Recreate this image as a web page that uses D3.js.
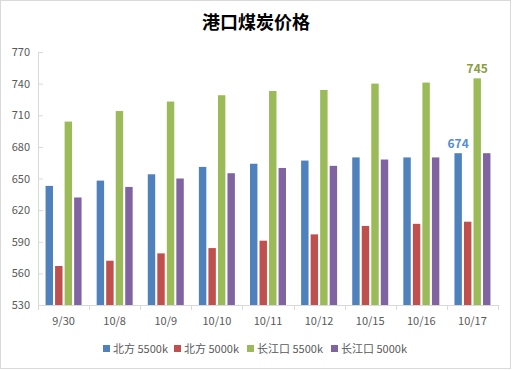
<!DOCTYPE html>
<html>
<head>
<meta charset="utf-8">
<script src="https://cdn.jsdelivr.net/npm/d3@7"></script>
<style>
  body { margin: 0; background: #fff; }
  svg text { font-family: "Noto Sans CJK SC", "Liberation Sans", sans-serif; }
</style>
</head>
<body>
<div id="chart"></div>
<script>
var dates = ['9/30', '10/8', '10/9', '10/10', '10/11', '10/12', '10/15', '10/16', '10/17'];
var seriesNames = ['北方 5500k', '北方 5000k', '长江口 5500k', '长江口 5000k'];
var north5500 = [643, 648, 654, 661, 664, 667, 670, 670, 674];
var north5000 = [567, 572, 579, 584, 591, 597, 605, 607, 609];
var yangtze5500 = [704, 714, 723, 729, 733, 734, 740, 741, 745];
var yangtze5000 = [632, 642, 650, 655, 660, 662, 668, 670, 674];
var yTicks = [530, 560, 590, 620, 650, 680, 710, 740, 770];
var colors = ['#4F81BD', '#C0504D', '#9BBB59', '#8064A2'];

var allSeries = [north5500, north5000, yangtze5500, yangtze5000];

var width = 512, height = 370;
var plotLeft = 38, plotRight = 498, plotTop = 52, plotBottom = 305;

var svg = d3.select('#chart').append('svg')
  .attr('width', width)
  .attr('height', height);

// chart frame
svg.append('rect')
  .attr('x', 0.5).attr('y', 0.5)
  .attr('width', width - 2).attr('height', height - 2)
  .attr('fill', '#fff')
  .attr('stroke', '#D9D9D9');

svg.append('text')
  .attr('x', 256).attr('y', 29)
  .attr('text-anchor', 'middle')
  .style('font-size', '18px')
  .style('font-weight', 'bold')
  .attr('fill', '#000')
  .text('港口煤炭价格');

var x = d3.scaleBand().domain(dates).range([plotLeft, plotRight]);
var x1 = d3.scaleBand().domain(d3.range(4)).range([0, 36]).paddingInner(0.22);
var y = d3.scaleLinear().domain([530, 770]).range([plotBottom, plotTop]);

// y axis
var yAxis = svg.append('g')
  .attr('transform', 'translate(' + plotLeft + ',0)')
  .call(d3.axisRight(y).tickValues(yTicks).tickSize(5).tickFormat(''));
yAxis.select('.domain').attr('stroke', '#D9D9D9').attr('d', 'M0.5,' + plotTop + 'V' + plotBottom);
yAxis.selectAll('.tick line').attr('stroke', '#D9D9D9');

svg.append('g').selectAll('text')
  .data(yTicks)
  .enter().append('text')
  .attr('x', 30)
  .attr('y', function(d) { return y(d) + 4; })
  .attr('text-anchor', 'end')
  .style('font-size', '11px')
  .attr('fill', '#595959')
  .text(function(d) { return d; });

// x axis
var xAxis = svg.append('g')
  .attr('transform', 'translate(0,' + plotBottom + ')')
  .call(d3.axisBottom(x).tickSize(0).tickFormat(''));
xAxis.select('.domain').attr('stroke', '#D9D9D9').attr('d', 'M' + plotLeft + ',0.5H' + plotRight);
xAxis.selectAll('.tick line').remove();

var bounds = dates.map(function(d) { return x(d); }).concat([plotRight]);
svg.append('g').selectAll('line')
  .data(bounds)
  .enter().append('line')
  .attr('x1', function(d) { return Math.round(d) + 0.5; })
  .attr('x2', function(d) { return Math.round(d) + 0.5; })
  .attr('y1', plotBottom).attr('y2', plotBottom + 5)
  .attr('stroke', '#D9D9D9');

svg.append('g').selectAll('text')
  .data(dates)
  .enter().append('text')
  .attr('x', function(d) { return x(d) + x.bandwidth() / 2; })
  .attr('y', 325)
  .attr('text-anchor', 'middle')
  .style('font-size', '11px')
  .attr('fill', '#595959')
  .text(function(d) { return d; });

// bars
var offset = (x.bandwidth() - 36) / 2;
allSeries.forEach(function(vals, i) {
  svg.append('g').selectAll('rect')
    .data(vals)
    .enter().append('rect')
    .attr('x', function(d, j) { return x(dates[j]) + offset + x1(i); })
    .attr('y', function(d) { return y(d); })
    .attr('width', x1.bandwidth())
    .attr('height', function(d) { return plotBottom - y(d); })
    .attr('fill', colors[i]);
});

// data labels on last category
var last = dates.length - 1;
svg.append('text')
  .attr('x', x(dates[last]) + offset + x1(0) + x1.bandwidth() / 2)
  .attr('y', y(north5500[last]) - 5)
  .attr('text-anchor', 'middle')
  .style('font-size', '12px')
  .style('font-weight', 'bold')
  .attr('fill', '#558ED5')
  .text(north5500[last]);

svg.append('text')
  .attr('x', x(dates[last]) + offset + x1(2) + x1.bandwidth() / 2)
  .attr('y', y(yangtze5500[last]) - 5)
  .attr('text-anchor', 'middle')
  .style('font-size', '12px')
  .style('font-weight', 'bold')
  .attr('fill', '#8A9B3B')
  .text(yangtze5500[last]);

// legend
var legendX = [103, 174, 247, 331];
var legend = svg.append('g').selectAll('g')
  .data(seriesNames)
  .enter().append('g')
  .attr('transform', function(d, i) { return 'translate(' + legendX[i] + ',345)'; });
legend.append('rect')
  .attr('width', 7).attr('height', 7)
  .attr('fill', function(d, i) { return colors[i]; });
legend.append('text')
  .attr('x', 10).attr('y', 8)
  .style('font-size', '11px')
  .attr('fill', '#595959')
  .text(function(d) { return d; });
</script>
</body>
</html>
